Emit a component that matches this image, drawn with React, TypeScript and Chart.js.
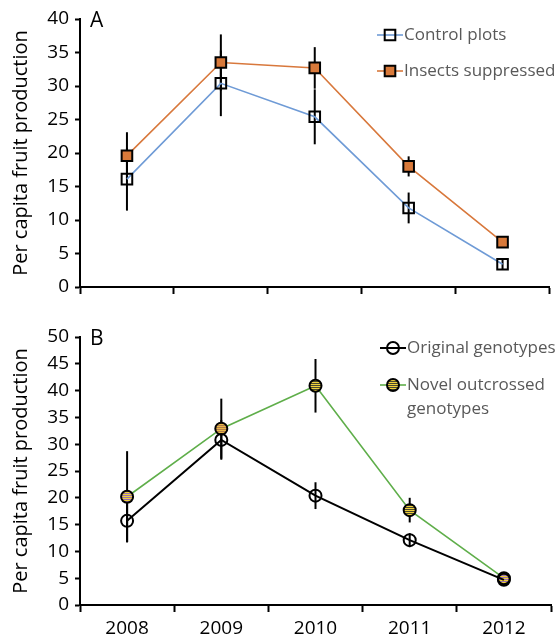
import React, { useEffect, useRef } from 'react';
import { Chart, registerables } from 'chart.js';

Chart.register(...registerables);

const years = ['2008', '2009', '2010', '2011', '2012'];

const controlMeans = [16.1, 30.4, 25.4, 11.8, 3.4];
const controlErr = [4.7, 4.9, 4.1, 2.3, 0.8];
const insectsMeans = [19.6, 33.5, 32.7, 18.0, 6.7];
const insectsErr = [3.5, 4.2, 3.1, 1.5, 0.4];

const originalMeans = [15.7, 30.8, 20.4, 12.1, 4.7];
const originalErr = [4.0, 3.7, 2.5, 1.3, 0.5];
const novelMeans = [20.2, 32.9, 40.9, 17.7, 5.0];
const novelErr = [8.5, 5.6, 5.0, 2.3, 0.5];

const yMaxA = 40;
const yMaxB = 50;
const yStep = 5;

const FONT = 'Open Sans';
const yTitle = 'Per capita fruit production';

function stripe(c1: string, c2: string): CanvasPattern | string {
  const cv = document.createElement('canvas');
  cv.width = 2;
  cv.height = 2;
  const g = cv.getContext('2d');
  if (!g) return c1;
  g.fillStyle = c1;
  g.fillRect(0, 0, 2, 1);
  g.fillStyle = c2;
  g.fillRect(0, 1, 2, 1);
  return g.createPattern(cv, 'repeat') || c1;
}

const errorBarsPlugin = {
  id: 'errorBars',
  beforeDatasetsDraw(chart: any) {
    const ctx = chart.ctx;
    const yScale = chart.scales.y;
    ctx.save();
    ctx.strokeStyle = '#000';
    ctx.lineWidth = 2;
    chart.data.datasets.forEach((ds: any, di: number) => {
      if (!ds.errors) return;
      const meta = chart.getDatasetMeta(di);
      meta.data.forEach((pt: any, i: number) => {
        const v = ds.data[i];
        const e = ds.errors[i];
        const y1 = yScale.getPixelForValue(v + e);
        const y2 = yScale.getPixelForValue(v - e);
        ctx.beginPath();
        ctx.moveTo(pt.x, y1);
        ctx.lineTo(pt.x, y2);
        ctx.stroke();
      });
    });
    ctx.restore();
  },
};

const customLegendPlugin = {
  id: 'customLegend',
  afterDraw(chart: any) {
    const opts = chart.options.plugins.customLegend;
    if (!opts) return;
    const ctx = chart.ctx;
    ctx.save();
    // panel letter
    ctx.fillStyle = '#000';
    ctx.font = `21px "${FONT}"`;
    ctx.textAlign = 'left';
    ctx.textBaseline = 'middle';
    ctx.fillText(opts.panel, chart.chartArea.left + 10, chart.chartArea.top + 2);

    opts.items.forEach((it: any) => {
      const ds = chart.data.datasets[it.dataset];
      const x0 = opts.x;
      const xm = x0 + 13;
      const x1 = x0 + 26;
      ctx.strokeStyle = ds.borderColor;
      ctx.lineWidth = ds.borderWidth;
      ctx.beginPath();
      ctx.moveTo(x0, it.y);
      ctx.lineTo(x1, it.y);
      ctx.stroke();
      const bg = Array.isArray(ds.pointBackgroundColor) ? it.bg || ds.pointBackgroundColor[0] : ds.pointBackgroundColor;
      ctx.fillStyle = bg;
      ctx.strokeStyle = '#000';
      ctx.lineWidth = ds.pointBorderWidth;
      ctx.beginPath();
      if (ds.pointStyle === 'rect') {
        const s = Math.SQRT1_2 * ds.pointRadius;
        ctx.rect(xm - s, it.y - s, 2 * s, 2 * s);
      } else {
        ctx.arc(xm, it.y, ds.pointRadius, 0, Math.PI * 2);
      }
      ctx.fill();
      ctx.stroke();
      ctx.fillStyle = '#595959';
      ctx.font = `17px "${FONT}"`;
      ctx.textBaseline = 'middle';
      const lines = ds.label.split('\n');
      lines.forEach((ln: string, k: number) => {
        ctx.fillText(ln, x1 + 1, it.y + k * opts.lineGap);
      });
    });
    ctx.restore();
  },
};

function baseScales(yMax: number, showX: boolean) {
  return {
    x: {
      type: 'category',
      offset: true,
      grid: {
        display: true,
        drawOnChartArea: false,
        offset: true,
        tickLength: 7,
        color: '#000',
        tickColor: '#000',
        tickWidth: 2,
      },
      border: { display: true, color: '#000', width: 2 },
      ticks: {
        display: showX,
        color: '#000',
        font: { family: FONT, size: 19 },
        padding: 5,
        maxRotation: 0,
      },
      afterFit: (s: any) => {
        s.height = showX ? 32 : 7;
      },
    },
    y: {
      min: 0,
      max: yMax,
      ticks: {
        stepSize: yStep,
        color: '#000',
        font: { family: FONT, size: 19 },
        padding: 6,
      },
      grid: {
        drawOnChartArea: false,
        tickLength: 5,
        color: '#000',
        tickColor: '#000',
        tickWidth: 2,
      },
      border: { color: '#000', width: 2 },
      title: {
        display: true,
        text: yTitle,
        color: '#000',
        font: { family: FONT, size: 20 },
        padding: { top: 9, bottom: 0 },
      },
      afterFit: (s: any) => {
        s.width = 80;
        s.paddingTop = 0;
        s.paddingBottom = 0;
      },
    },
  };
}

export default function App() {
  const refA = useRef<HTMLCanvasElement>(null);
  const refB = useRef<HTMLCanvasElement>(null);

  useEffect(() => {
    if (!refA.current || !refB.current) return;
    const chartA = new Chart(refA.current, {
      type: 'line',
      data: {
        labels: years,
        datasets: [
          {
            label: 'Control plots',
            data: controlMeans,
            errors: controlErr,
            borderColor: '#6f9bd6',
            borderWidth: 1.6,
            pointStyle: 'rect',
            pointRadius: 7.5,
            pointBorderWidth: 2,
            pointBorderColor: '#000',
            pointBackgroundColor: 'rgba(0,0,0,0)',
          } as any,
          {
            label: 'Insects suppressed',
            data: insectsMeans,
            errors: insectsErr,
            borderColor: '#d8783c',
            borderWidth: 1.6,
            pointStyle: 'rect',
            pointRadius: 7.5,
            pointBorderWidth: 2,
            pointBorderColor: '#000',
            pointBackgroundColor: '#d8793a',
          } as any,
        ],
      },
      options: {
        animation: false,
        responsive: false,
        maintainAspectRatio: false,
        layout: { padding: { left: 0, right: 3, top: 19, bottom: 6 } },
        scales: baseScales(yMaxA, false) as any,
        plugins: {
          legend: { display: false },
          tooltip: { enabled: false },
          customLegend: {
            panel: 'A',
            x: 377,
            lineGap: 23,
            items: [
              { dataset: 0, y: 35 },
              { dataset: 1, y: 71 },
            ],
          },
        } as any,
      },
      plugins: [errorBarsPlugin, customLegendPlugin],
    });

    const y1 = '#f0d03c';
    const novelBg = [
      stripe(y1, '#9a72b4'),
      stripe('#e8b848', '#b07c4c'),
      stripe(y1, '#4a4a30'),
      stripe(y1, '#4a4a30'),
      stripe(y1, '#9a72b4'),
    ];
    const legendBg = stripe(y1, '#4a4a30');

    const chartB = new Chart(refB.current, {
      type: 'line',
      data: {
        labels: years,
        datasets: [
          {
            label: 'Original genotypes',
            data: originalMeans,
            errors: originalErr,
            borderColor: '#000',
            borderWidth: 2,
            pointStyle: 'circle',
            pointRadius: 6,
            pointBorderWidth: 2,
            pointBorderColor: '#000',
            pointBackgroundColor: 'rgba(0,0,0,0)',
          } as any,
          {
            label: 'Novel outcrossed\ngenotypes',
            data: novelMeans,
            errors: novelErr,
            borderColor: '#5fae4a',
            borderWidth: 1.6,
            pointStyle: 'circle',
            pointRadius: 6,
            pointBorderWidth: 2,
            pointBorderColor: '#000',
            pointBackgroundColor: novelBg,
          } as any,
        ],
      },
      options: {
        animation: false,
        responsive: false,
        maintainAspectRatio: false,
        layout: { padding: { left: 0, right: 3, top: 37, bottom: 0 } },
        scales: baseScales(yMaxB, true) as any,
        plugins: {
          legend: { display: false },
          tooltip: { enabled: false },
          customLegend: {
            panel: 'B',
            x: 380,
            lineGap: 24,
            items: [
              { dataset: 0, y: 48 },
              { dataset: 1, y: 85, bg: legendBg },
            ],
          },
        } as any,
      },
      plugins: [errorBarsPlugin, customLegendPlugin],
    });

    return () => {
      chartA.destroy();
      chartB.destroy();
    };
  }, []);

  return (
    <div style={{ position: 'fixed', left: 0, top: 0, width: 559, height: 637, background: '#fff' }}>
      <canvas ref={refA} width={559} height={300} style={{ position: 'absolute', left: 0, top: 0, width: 559, height: 300 }} />
      <canvas ref={refB} width={559} height={337} style={{ position: 'absolute', left: 0, top: 300, width: 559, height: 337 }} />
    </div>
  );
}
